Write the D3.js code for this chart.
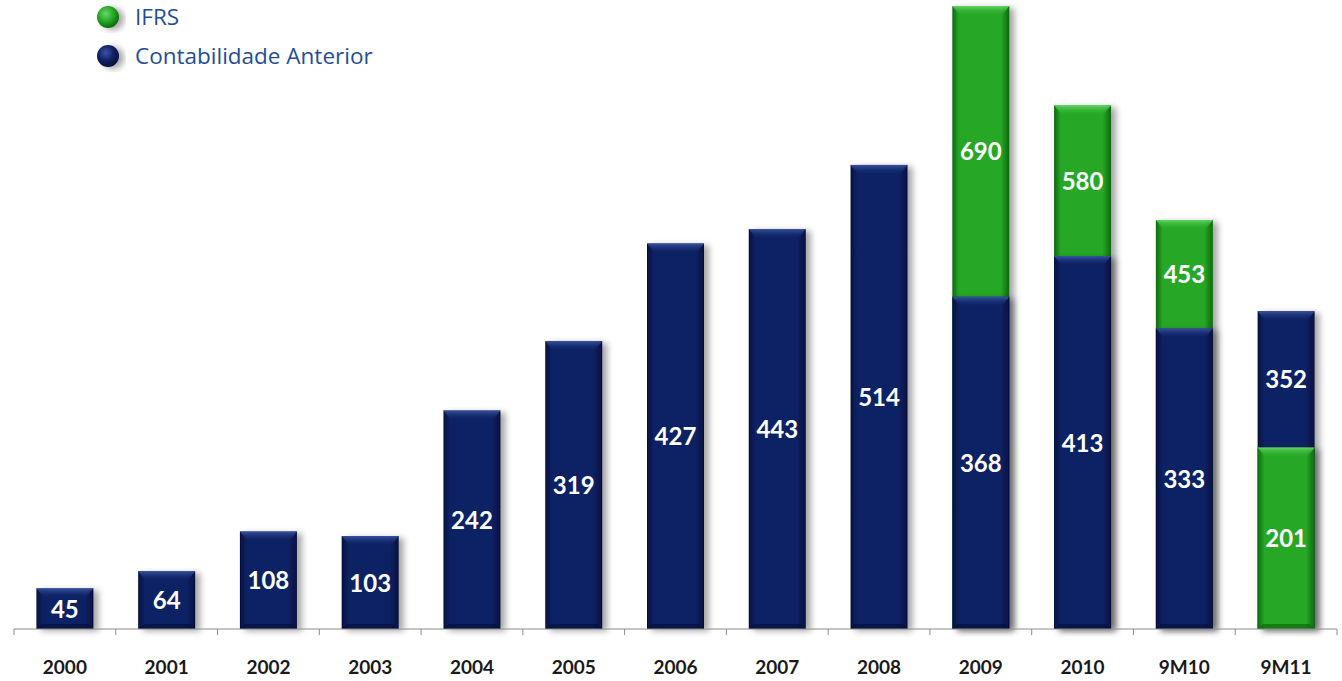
<!DOCTYPE html>
<html>
<head>
<meta charset="utf-8">
<script src="https://cdn.jsdelivr.net/npm/d3@7"></script>
<style>
  body { margin: 0; background: #fff; }
  svg { display: block; }
</style>
</head>
<body>
<svg id="chart" width="1342" height="681"></svg>
<script>
// Data
const categories = ["2000", "2001", "2002", "2003", "2004", "2005", "2006", "2007", "2008", "2009", "2010", "9M10", "9M11"];
const anterior = [45, 64, 108, 103, 242, 319, 427, 443, 514, 368, 413, 333, 352];
const ifrs = [null, null, null, null, null, null, null, null, null, 690, 580, 453, 201];
const legendLabels = ["IFRS", "Contabilidade Anterior"];

const svg = d3.select("#chart");
const baseY = 629;

const x = d3.scaleBand()
    .domain(categories)
    .range([14, 1337])
    .paddingInner(0.44)
    .paddingOuter(0.22);

const y = d3.scaleLinear()
    .domain([0, 690])
    .range([baseY, 6]);

// Gradients / filters
const defs = svg.append("defs");

const palette = {
    blue: { edge: "#050f3c", mid: "#0f2265", bevel: "#3a55a2" },
    green: { edge: "#0b6a0b", mid: "#27a827", bevel: "#66d866" }
};

Object.entries(palette).forEach(([key, c]) => {
    const g = defs.append("linearGradient").attr("id", "body-" + key)
        .attr("x1", 0).attr("x2", 1).attr("y1", 0).attr("y2", 0);
    g.append("stop").attr("offset", "0%").attr("stop-color", c.edge);
    g.append("stop").attr("offset", "12%").attr("stop-color", c.mid);
    g.append("stop").attr("offset", "85%").attr("stop-color", c.mid);
    g.append("stop").attr("offset", "100%").attr("stop-color", c.edge);

    const b = defs.append("linearGradient").attr("id", "bevel-" + key)
        .attr("x1", 0).attr("x2", 0).attr("y1", 0).attr("y2", 1);
    b.append("stop").attr("offset", "0%").attr("stop-color", c.bevel).attr("stop-opacity", 0.95);
    b.append("stop").attr("offset", "100%").attr("stop-color", c.mid).attr("stop-opacity", 0.2);

    const r = defs.append("radialGradient").attr("id", "ball-" + key)
        .attr("cx", "40%").attr("cy", "35%").attr("r", "65%");
    r.append("stop").attr("offset", "0%").attr("stop-color", c.bevel);
    r.append("stop").attr("offset", "55%").attr("stop-color", c.mid);
    r.append("stop").attr("offset", "100%").attr("stop-color", c.edge);
});

const shadow = defs.append("filter").attr("id", "shadow")
    .attr("x", "-20%").attr("y", "-10%").attr("width", "150%").attr("height", "130%");
shadow.append("feDropShadow")
    .attr("dx", 5).attr("dy", 2).attr("stdDeviation", 3)
    .attr("flood-color", "#000").attr("flood-opacity", 0.35);

// Build bar list: bigger value behind, smaller in front
const bars = [];
const labels = [];
categories.forEach((cat, i) => {
    const items = [{ key: "blue", v: anterior[i] }];
    if (ifrs[i] != null) items.push({ key: "green", v: ifrs[i] });
    items.sort((a, b) => b.v - a.v);
    items.forEach(d => bars.push({ cat, key: d.key, v: d.v }));
    if (items.length === 1) {
        labels.push({ cat, v: items[0].v, mid: (y(items[0].v) + baseY) / 2 });
    } else {
        labels.push({ cat, v: items[0].v, mid: (y(items[0].v) + y(items[1].v)) / 2 });
        labels.push({ cat, v: items[1].v, mid: (y(items[1].v) + baseY) / 2 });
    }
});

const bw = x.bandwidth();
const barG = svg.append("g");

const barSel = barG.selectAll("g.bar")
    .data(bars)
    .join("g")
    .attr("class", "bar")
    .attr("transform", d => `translate(${x(d.cat)},${y(d.v)})`);

barSel.append("rect")
    .attr("width", bw)
    .attr("height", d => baseY - y(d.v))
    .attr("fill", d => `url(#body-${d.key})`)
    .attr("filter", "url(#shadow)");

// top bevel
barSel.append("path")
    .attr("d", d => {
        const h = Math.min(9, (baseY - y(d.v)) / 3);
        return `M0,0 L${bw},0 L${bw - 7},${h} L7,${h} Z`;
    })
    .attr("fill", d => `url(#bevel-${d.key})`);

// bottom edge darkening
barSel.append("path")
    .attr("d", d => {
        const H = baseY - y(d.v);
        return `M0,${H} L${bw},${H} L${bw - 5},${H - 5} L5,${H - 5} Z`;
    })
    .attr("fill", d => palette[d.key].edge)
    .attr("opacity", 0.7);

// value labels
svg.append("g").selectAll("text")
    .data(labels)
    .join("text")
    .attr("x", d => x(d.cat) + bw / 2)
    .attr("y", d => d.mid)
    .attr("dy", "0.38em")
    .attr("text-anchor", "middle")
    .attr("fill", "#fff")
    .attr("font-family", "Lato, sans-serif")
    .attr("font-weight", "bold")
    .attr("font-size", 24)
    .text(d => d.v);

// x axis: ticks at band boundaries
const axisG = svg.append("g").attr("transform", `translate(0,${baseY})`);
axisG.append("line")
    .attr("x1", 14).attr("x2", 1337)
    .attr("stroke", "#8c8c8c").attr("stroke-width", 1);

const step = x.step();
const boundaries = d3.range(categories.length + 1).map(i => 14 + i * step);
axisG.selectAll("line.tick")
    .data(boundaries)
    .join("line")
    .attr("class", "tick")
    .attr("x1", d => d).attr("x2", d => d)
    .attr("y1", 0).attr("y2", 6)
    .attr("stroke", "#8c8c8c");

axisG.selectAll("text")
    .data(categories)
    .join("text")
    .attr("x", d => x(d) + bw / 2)
    .attr("y", 45)
    .attr("text-anchor", "middle")
    .attr("fill", "#1a1a1a")
    .attr("font-family", "Lato, sans-serif")
    .attr("font-weight", "bold")
    .attr("font-size", 19)
    .text(d => d);

// legend
const legend = svg.append("g")
    .selectAll("g")
    .data(legendLabels)
    .join("g")
    .attr("transform", (d, i) => `translate(108,${17 + i * 39})`);

legend.append("circle")
    .attr("r", 11)
    .attr("fill", (d, i) => i === 0 ? "url(#ball-green)" : "url(#ball-blue)")
    .attr("filter", "url(#shadow)");

legend.append("text")
    .attr("x", 27)
    .attr("dy", "0.36em")
    .attr("fill", "#1f4e96")
    .attr("font-family", "'Open Sans', sans-serif")
    .attr("font-size", 22.5)
    .text(d => d);
</script>
</body>
</html>
